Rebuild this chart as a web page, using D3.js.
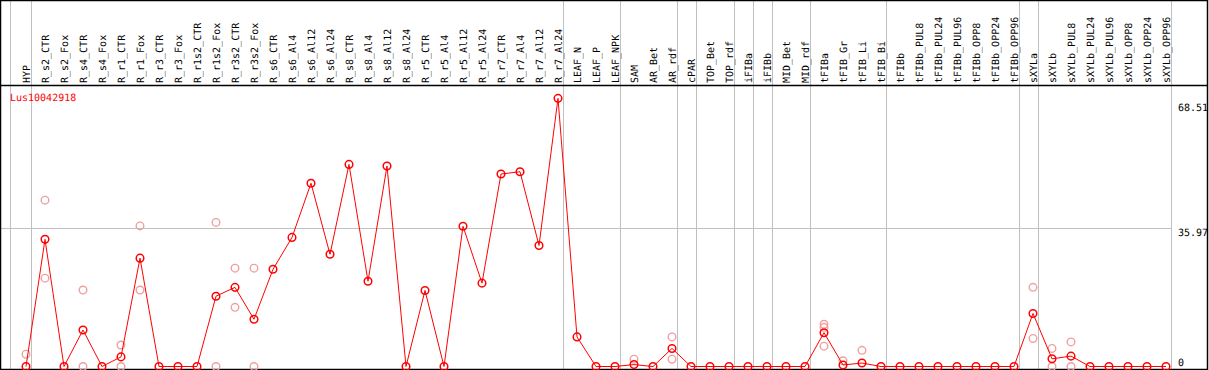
<!DOCTYPE html>
<html>
<head>
<meta charset="utf-8">
<script src="https://cdn.jsdelivr.net/npm/d3@7"></script>
<style>
  body { margin: 0; background: #fff; }
  text { font-family: "DejaVu Sans Mono", monospace; font-size: 10px; text-rendering: geometricPrecision; }
</style>
</head>
<body>
<svg id="chart" width="1209" height="370"></svg>
<script>
const geneName = "Lus10042918";

const categories = ["HYP","R_s2_CTR","R_s2_Fox","R_s4_CTR","R_s4_Fox","R_r1_CTR","R_r1_Fox","R_r3_CTR","R_r3_Fox",
  "R_r1s2_CTR","R_r1s2_Fox","R_r3s2_CTR","R_r3s2_Fox","R_s6_CTR","R_s6_Al4","R_s6_Al12","R_s6_Al24",
  "R_s8_CTR","R_s8_Al4","R_s8_Al12","R_s8_Al24","R_r5_CTR","R_r5_Al4","R_r5_Al12","R_r5_Al24",
  "R_r7_CTR","R_r7_Al4","R_r7_Al12","R_r7_Al24","LEAF_N","LEAF_P","LEAF_NPK","SAM","AR_Bet","AR_rdf",
  "cPAR","TOP_Bet","TOP_rdf","iFIBa","iFIBb","MID_Bet","MID_rdf","tFIBa","tFIB_Gr","tFIB_Li","tFIB_Bi",
  "tFIBb","tFIBb_PUL8","tFIBb_PUL24","tFIBb_PUL96","tFIBb_OPP8","tFIBb_OPP24","tFIBb_OPP96",
  "sXYLa","sXYLb","sXYLb_PUL8","sXYLb_PUL24","sXYLb_PUL96","sXYLb_OPP8","sXYLb_OPP24","sXYLb_OPP96"];

// number of columns in each sample group (separated by grey lines)
const groupSizes = [1, 28, 3, 3, 1, 2, 1, 1, 2, 4, 7, 1, 7];

// mean expression (red line)
const meanValues = [0, 33.1, 0, 9.5, 0, 2.5, 28.2, 0, 0,
  0, 18.3, 20.6, 12.3, 25.3, 33.6, 47.7, 29.2,
  52.6, 22.2, 52.2, 0, 19.8, 0, 36.5, 21.7,
  50.1, 50.7, 31.5, 69.8, 7.7, 0, 0, 0.5, 0, 4.7,
  0, 0, 0, 0, 0, 0, 0, 8.8, 0.4, 0.9, 0,
  0, 0, 0, 0, 0, 0, 0,
  13.8, 2.0, 2.7, 0, 0, 0, 0, 0];

// replicate values (pale circles), null = none
const rep1 = [3.2, 43.3, null, 19.9, null, 5.6, 36.6, null, null,
  null, 37.5, 25.6, 25.6, null, null, null, null,
  null, null, null, null, null, null, null, null,
  null, null, null, null, null, null, null, 1.9, null, 7.7,
  null, null, null, null, null, null, null, 11.0, 1.5, 4.2, null,
  null, null, null, null, null, null, null,
  20.6, 4.7, 6.4, null, null, null, null, null];
const rep2 = [null, 23.0, null, 0, null, 0, 19.9, null, null,
  null, 0, 15.4, 0, null, null, null, null,
  null, null, null, null, null, null, null, null,
  null, null, null, null, null, null, null, null, null, 1.9,
  null, null, null, null, null, null, null, 5.3, null, null, null,
  null, null, null, null, null, null, null,
  7.3, 0, 0, null, null, null, null, null];
const rep3 = [null, null, null, null, null, null, null, null, null,
  null, null, null, null, null, null, null, null,
  null, null, null, null, null, null, null, null,
  null, null, null, null, null, null, null, null, null, null,
  null, null, null, null, null, null, null, 10.2, null, null, null,
  null, null, null, null, null, null, null,
  null, null, null, null, null, null, null, null];

const yTicks = [0, 35.97, 68.51];

const W = 1209, H = 370;
const plotTop = 85, plotBottom = 369;

const svg = d3.select("#chart");

const x = d3.scalePoint().domain(categories).range([26, 1166]);
const y = d3.scaleLinear().domain([0, 68.51]).range([366.5, 103.3]);

// grey separators between groups
let seps = [x(categories[0]) - 16];
let idx = -1;
groupSizes.forEach(n => { idx += n; seps.push(x(categories[idx]) + 5); });

svg.append("g").selectAll("line").data(seps).join("line")
  .attr("x1", d => Math.round(d) + 0.5).attr("x2", d => Math.round(d) + 0.5)
  .attr("y1", 0).attr("y2", plotBottom)
  .attr("stroke", "#c0c0c0").attr("stroke-width", 1);

// horizontal grid at the middle tick
svg.append("line")
  .attr("x1", 0).attr("x2", Math.round(seps[seps.length - 1]))
  .attr("y1", Math.round(y(yTicks[1])) + 0.5).attr("y2", Math.round(y(yTicks[1])) + 0.5)
  .attr("stroke", "#c0c0c0");

// frame
svg.append("rect").attr("x", 0.5).attr("y", 0.5).attr("width", W - 2).attr("height", plotBottom)
  .attr("fill", "none").attr("stroke", "#000").attr("stroke-width", 1.5);
svg.append("line").attr("x1", 0).attr("x2", W - 1).attr("y1", plotTop + 0.5).attr("y2", plotTop + 0.5)
  .attr("stroke", "#000").attr("stroke-width", 1.5);

// column labels
svg.append("g").selectAll("text").data(categories).join("text")
  .attr("transform", d => "translate(" + (x(d) + 4) + "," + (plotTop - 2) + ") rotate(-90)")
  .attr("fill", "#000")
  .text(d => d);

// y tick labels (right side)
svg.append("g").selectAll("text").data(yTicks).join("text")
  .attr("x", 1178)
  .attr("y", d => d === 0 ? y(d) - 1 : y(d) + 8)
  .attr("fill", "#000")
  .text(d => d);

svg.append("text").attr("x", 10).attr("y", 101).attr("fill", "#ff0000").text(geneName);

// replicate circles
const reps = [];
[rep1, rep2, rep3].forEach(arr => arr.forEach((v, i) => { if (v !== null) reps.push({c: categories[i], v: v}); }));
svg.append("g").selectAll("circle").data(reps).join("circle")
  .attr("cx", d => x(d.c)).attr("cy", d => y(d.v)).attr("r", 3.8)
  .attr("fill", "none").attr("stroke", "#f0a0a0").attr("stroke-width", 1.4);

// mean line
const line = d3.line().x((d, i) => x(categories[i])).y(d => y(d));
svg.append("path").datum(meanValues)
  .attr("d", line).attr("fill", "none").attr("stroke", "#ff0000").attr("stroke-width", 1);

svg.append("g").selectAll("circle").data(meanValues).join("circle")
  .attr("cx", (d, i) => x(categories[i])).attr("cy", d => y(d)).attr("r", 3.8)
  .attr("fill", "none").attr("stroke", "#ff0000").attr("stroke-width", 1.5);
</script>
</body>
</html>
